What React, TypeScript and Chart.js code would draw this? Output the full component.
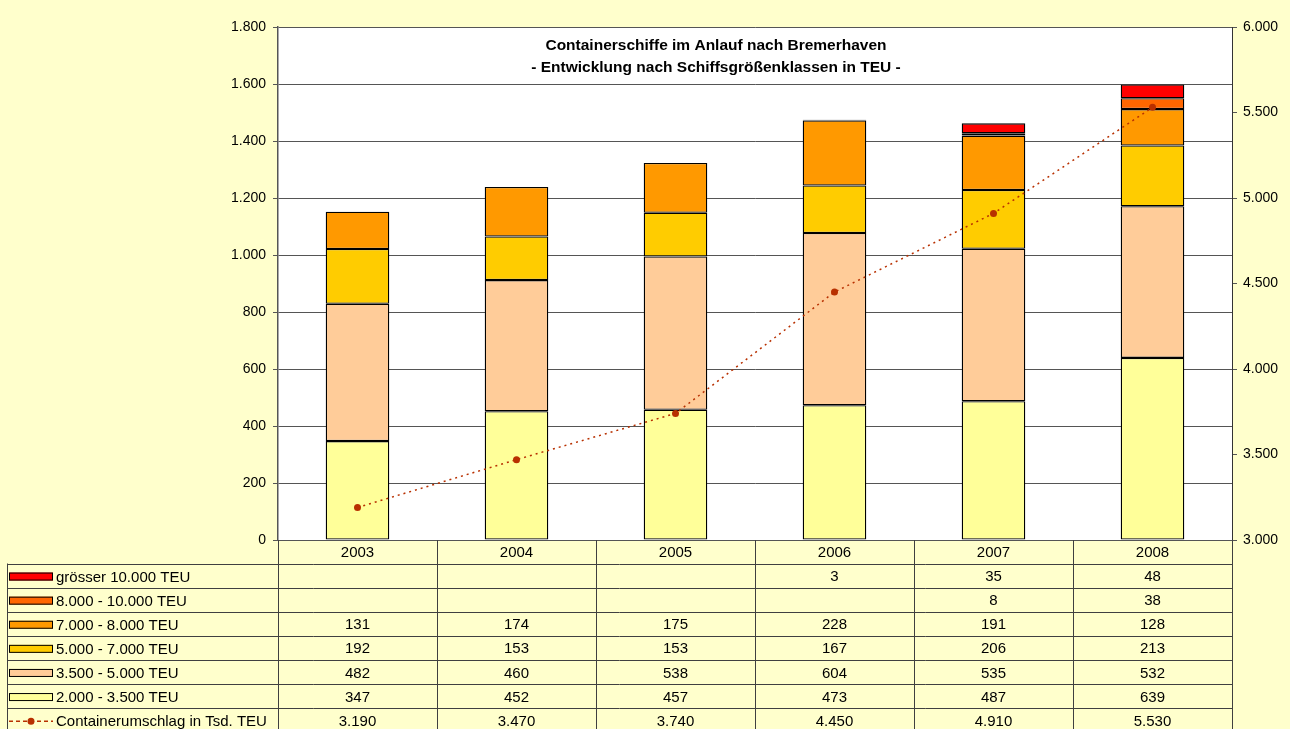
import React, { useEffect, useRef } from "react";
import { Chart, registerables } from "chart.js";

Chart.register(...registerables);

const years = ["2003", "2004", "2005", "2006", "2007", "2008"];
const teu2000_3500 = [347, 452, 457, 473, 487, 639];
const teu3500_5000 = [482, 460, 538, 604, 535, 532];
const teu5000_7000 = [192, 153, 153, 167, 206, 213];
const teu7000_8000 = [131, 174, 175, 228, 191, 128];
const teu8000_10000 = [null, null, null, null, 8, 38];
const teuOver10000 = [null, null, null, 3, 35, 48];
const umschlag = [3190, 3470, 3740, 4450, 4910, 5530];

const leftTicks = { min: 0, max: 1800, step: 200 };
const rightTicks = { min: 3000, max: 6000, step: 500 };

const titleLines = [
  "Containerschiffe im Anlauf nach Bremerhaven",
  "- Entwicklung nach Schiffsgrößenklassen in TEU -",
];

const FONT = "'Liberation Sans', Arial, sans-serif";
const BG = "#FFFFCC";
const LINE_COLOR = "#B83000";

function de(n: number): string {
  const s = Math.round(n).toString();
  return s.replace(/\B(?=(\d{3})+(?!\d))/g, ".");
}

const barSeries = [
  { label: "2.000 - 3.500 TEU", data: teu2000_3500, color: "#FFFF99" },
  { label: "3.500 - 5.000 TEU", data: teu3500_5000, color: "#FFCC99" },
  { label: "5.000 - 7.000 TEU", data: teu5000_7000, color: "#FFCC00" },
  { label: "7.000 - 8.000 TEU", data: teu7000_8000, color: "#FF9900" },
  { label: "8.000 - 10.000 TEU", data: teu8000_10000, color: "#FF6600" },
  { label: "grösser 10.000 TEU", data: teuOver10000, color: "#FF0000" },
];

const bgPlugin = {
  id: "bgPlugin",
  beforeDraw(chart: any) {
    const { ctx, chartArea: a } = chart;
    ctx.save();
    ctx.fillStyle = BG;
    ctx.fillRect(0, 0, chart.width, chart.height);
    ctx.fillStyle = "#FFFFFF";
    ctx.fillRect(a.left, a.top, a.right - a.left, a.bottom - a.top);
    ctx.restore();
  },
};

const tablePlugin = {
  id: "tablePlugin",
  afterDraw(chart: any) {
    const { ctx, chartArea: a } = chart;
    const xs = chart.scales.x;
    const n = years.length;
    const colW = (a.right - a.left) / n;
    const top = a.bottom;
    const headerBottom = top + 23.5;
    const rowH = 24.1;
    const tableLeft = 7;
    const bottom = chart.height;

    ctx.save();
    ctx.fillStyle = "#000";
    ctx.font = `bold 15.5px ${FONT}`;
    ctx.textAlign = "center";
    ctx.textBaseline = "middle";
    ctx.fillText(titleLines[0], 716, 46);
    ctx.fillText(titleLines[1], 716, 68);
    ctx.restore();

    const rows: any[] = [
      ...barSeries.slice().reverse().map((s) => ({ label: s.label, data: s.data, color: s.color, kind: "bar" })),
      { label: "Containerumschlag in Tsd. TEU", data: umschlag, color: LINE_COLOR, kind: "line" },
    ];

    ctx.save();
    ctx.strokeStyle = "#404040";
    ctx.lineWidth = 1;
    for (let i = 0; i <= n; i++) {
      const x = Math.round(a.left + i * colW) + 0.5;
      ctx.beginPath();
      ctx.moveTo(x, top);
      ctx.lineTo(x, bottom);
      ctx.stroke();
    }
    ctx.beginPath();
    ctx.moveTo(tableLeft + 0.5, headerBottom);
    ctx.lineTo(tableLeft + 0.5, bottom);
    ctx.stroke();
    for (let r = 0; r <= rows.length; r++) {
      const y = Math.round(headerBottom + r * rowH) + 0.5;
      if (y > bottom) break;
      ctx.beginPath();
      ctx.moveTo(tableLeft, y);
      ctx.lineTo(a.right, y);
      ctx.stroke();
    }
    ctx.restore();

    ctx.save();
    ctx.fillStyle = "#000";
    ctx.font = `15px ${FONT}`;
    ctx.textAlign = "center";
    ctx.textBaseline = "middle";
    years.forEach((yr, i) => {
      ctx.fillText(yr, xs.getPixelForValue(i), top + 13);
    });

    rows.forEach((row, r) => {
      const cy = headerBottom + r * rowH + rowH / 2;
      if (row.kind === "bar") {
        ctx.fillStyle = row.color;
        ctx.fillRect(9, cy - 3, 44, 8);
        ctx.strokeStyle = "#000";
        ctx.lineWidth = 1;
        ctx.strokeRect(9.5, cy - 2.5, 43, 7);
      } else {
        ctx.strokeStyle = row.color;
        ctx.lineWidth = 1.5;
        ctx.setLineDash([4, 3]);
        ctx.beginPath();
        ctx.moveTo(9, cy + 1);
        ctx.lineTo(53, cy + 1);
        ctx.stroke();
        ctx.setLineDash([]);
        ctx.fillStyle = row.color;
        ctx.beginPath();
        ctx.arc(31, cy + 1, 3.5, 0, Math.PI * 2);
        ctx.fill();
      }
      ctx.fillStyle = "#000";
      ctx.textAlign = "left";
      ctx.fillText(row.label, 56, cy + 2);
      ctx.textAlign = "center";
      row.data.forEach((v: number | null, i: number) => {
        if (v === null || v === undefined) return;
        ctx.fillText(de(v), xs.getPixelForValue(i), cy + 1.5);
      });
    });
    ctx.restore();
  },
};

export default function App() {
  const ref = useRef<HTMLCanvasElement | null>(null);

  useEffect(() => {
    if (!ref.current) return;
    const datasets: any[] = [
      {
        type: "line",
        label: "Containerumschlag in Tsd. TEU",
        data: umschlag,
        yAxisID: "y1",
        borderColor: LINE_COLOR,
        backgroundColor: LINE_COLOR,
        borderWidth: 1.5,
        borderDash: [2, 4],
        pointRadius: 3.5,
        pointBorderWidth: 0,
        tension: 0,
        fill: false,
        order: 0,
      },
      ...barSeries.map((s) => ({
        type: "bar",
        label: s.label,
        data: s.data,
        backgroundColor: s.color,
        borderColor: "#000000",
        borderWidth: 1.3,
        borderSkipped: false,
        stack: "s",
        yAxisID: "y",
        barPercentage: 0.4,
        categoryPercentage: 1,
        order: 1,
      })),
    ];

    const chart = new Chart(ref.current, {
      type: "bar",
      data: { labels: years, datasets },
      plugins: [bgPlugin, tablePlugin],
      options: {
        responsive: false,
        animation: false,
        devicePixelRatio: 1,
        layout: { padding: { top: 27, bottom: 189, left: 0, right: 0 } },
        plugins: {
          legend: { display: false },
          title: { display: false },
          tooltip: { enabled: false },
        },
        scales: {
          x: {
            display: false,
            stacked: true,
            offset: true,
            grid: { display: false },
          },
          y: {
            position: "left",
            stacked: true,
            min: leftTicks.min,
            max: leftTicks.max,
            afterFit: (scale: any) => {
              scale.width = 278;
            },
            ticks: {
              stepSize: leftTicks.step,
              color: "#000",
              font: { family: FONT, size: 14 },
              padding: 7,
              callback: (v: any) => de(Number(v)),
            },
            grid: {
              color: "#555555",
              lineWidth: 1,
              tickLength: 5,
              tickColor: "#555555",
            },
            border: { color: "#555555", width: 1.5 },
          },
          y1: {
            position: "right",
            min: rightTicks.min,
            max: rightTicks.max,
            afterFit: (scale: any) => {
              scale.width = 58;
            },
            ticks: {
              stepSize: rightTicks.step,
              color: "#000",
              font: { family: FONT, size: 14 },
              padding: 6,
              callback: (v: any) => de(Number(v)),
            },
            grid: {
              drawOnChartArea: false,
              tickLength: 5,
              tickColor: "#555555",
            },
            border: { color: "#333333", width: 1 },
          },
        },
      } as any,
    });
    return () => chart.destroy();
  }, []);

  return (
    <div style={{ position: "absolute", left: 0, top: 0, width: 1290, height: 729, background: BG }}>
      <canvas ref={ref} width={1290} height={729} style={{ width: 1290, height: 729, display: "block" }} />
    </div>
  );
}
